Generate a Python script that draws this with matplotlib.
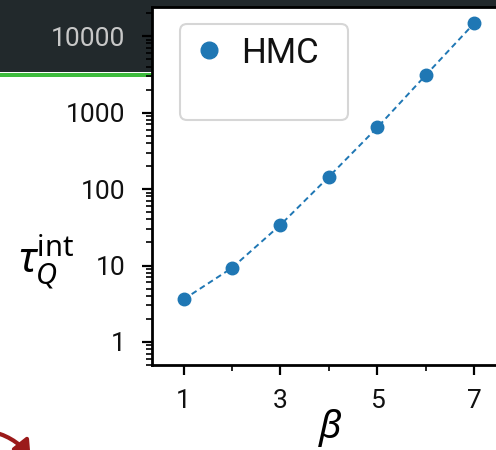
import matplotlib
matplotlib.use('Agg')
import matplotlib.pyplot as plt
from matplotlib.patches import Rectangle, FancyArrowPatch
from matplotlib.lines import Line2D
from matplotlib.ticker import FixedLocator, NullFormatter

plt.rcParams['font.family'] = ['Roboto', 'DejaVu Sans']
plt.rcParams['mathtext.fontset'] = 'custom'
plt.rcParams['mathtext.rm'] = 'Noto Sans'
plt.rcParams['mathtext.it'] = 'Noto Sans:italic'

beta = [1, 2, 3, 4, 5, 6, 7]
tau_int = [3.6, 9.3, 34, 145, 640, 3100, 14800]
ytick_vals = [1, 10, 100, 1000, 10000]
ytick_labels = ['1', '10', '100', '1000', '10000']
xtick_vals = [1, 3, 5, 7]

fig = plt.figure(figsize=(4.96, 4.5), dpi=100)

# slide background pieces behind the plot
fig.patches.append(Rectangle((0, 1 - 72 / 450), 1, 72 / 450, transform=fig.transFigure,
                             facecolor='#22292c', edgecolor='none', zorder=0))
fig.patches.append(Rectangle((0, 1 - 77 / 450), 0.32, 4 / 450, transform=fig.transFigure,
                             facecolor='#3dbb3d', edgecolor='none', zorder=0))
fig.patches.append(FancyArrowPatch((-0.03, 1 - 430 / 450), (0.065, -0.02),
                                   transform=fig.transFigure, connectionstyle='arc3,rad=-0.2',
                                   arrowstyle='-|>,head_length=9,head_width=6',
                                   color='#9b1a1a', lw=3, zorder=1))

ax = fig.add_axes([152 / 496, 85 / 450, 1.02 - 152 / 496, 1 - 85 / 450 - 7 / 450])
ax.set_zorder(2)
ax.plot(beta, tau_int, 'o--', color='#1f77b4', markersize=9, lw=1.4, dashes=(3, 2))
ax.set_yscale('log')
ax.set_ylim(0.5, 24000)
ax.set_xlim(0.35, 7.65)

ax.set_yticks(ytick_vals)
ax.set_yticklabels(ytick_labels)
ax.set_xticks(xtick_vals)
ax.xaxis.set_minor_locator(FixedLocator([2, 4, 6]))
ax.tick_params(axis='both', which='major', labelsize=19, length=7, width=1.6, direction='out',
               labelcolor='#111111')
ax.tick_params(axis='both', which='minor', length=4, width=1.2, direction='out')
ax.tick_params(axis='x', which='major', pad=10)
ax.tick_params(axis='y', which='major', pad=12)
ax.yaxis.set_minor_formatter(NullFormatter())
ax.get_yticklabels()[-1].set_color('#c8c8c8')

for s in ['left', 'bottom', 'top']:
    ax.spines[s].set_linewidth(2)
    ax.spines[s].set_color('black')

fig.text(330 / 496, 1 - 428 / 450, r'$\beta$', fontsize=28, ha='center', va='center')
fig.text(18 / 496, 1 - 262 / 450, r'$\tau_Q^{\mathrm{int}}$', fontsize=30, va='center', ha='left')

dot = Line2D([], [], linestyle='none', marker='o', color='#1f77b4', markersize=12)
blank = Line2D([], [], linestyle='none', marker='none')
leg = ax.legend([dot, blank], ['HMC', ' ' * 11], loc='upper left', fontsize=25, frameon=True,
                fancybox=True, edgecolor='#cccccc', borderpad=0.35, handletextpad=0.4,
                bbox_to_anchor=(0.03, 1.0), handlelength=1.0, labelspacing=0.15)
leg.get_frame().set_linewidth(1.5)
for t in leg.get_texts():
    t.set_color('#111111')

fig.savefig('out.png', dpi=100)
